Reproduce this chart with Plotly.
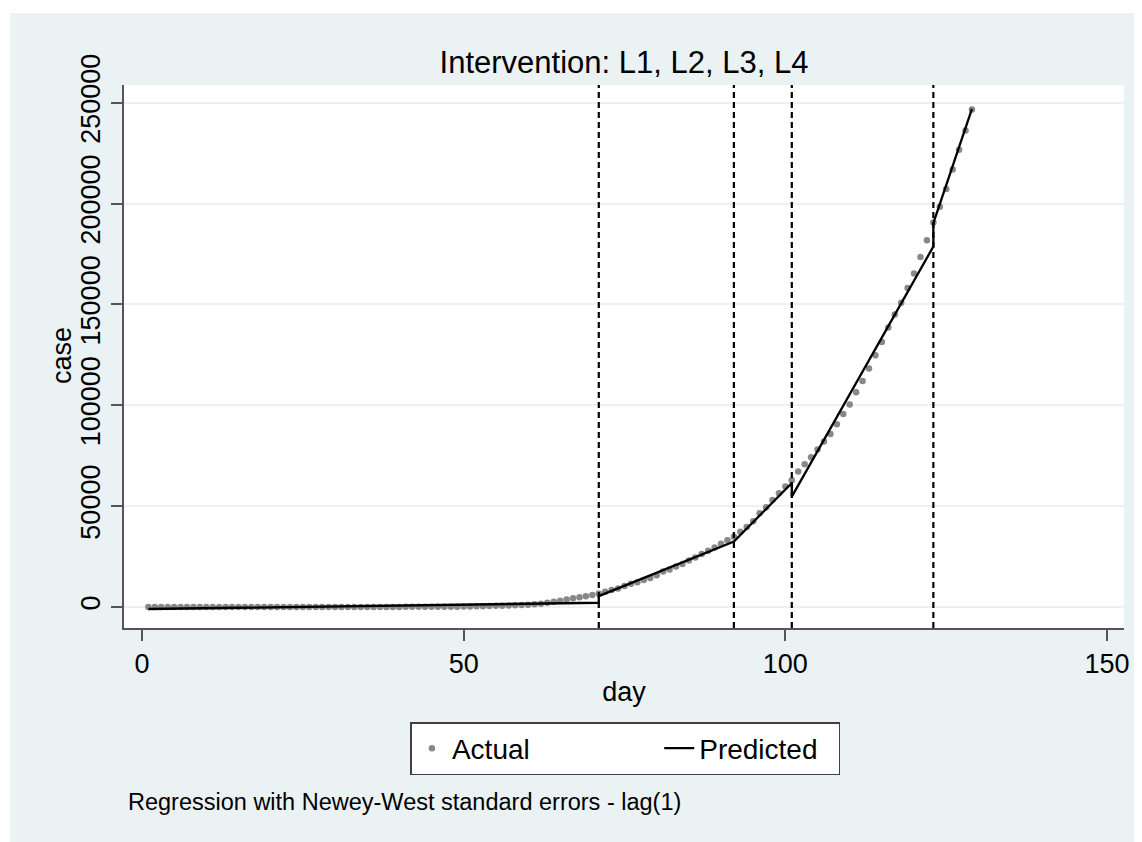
import plotly.graph_objects as go

# ---------------- data ----------------
day = list(range(1, 130))
case = [1, 1, 1, 2, 3] + [3] * 27 + [
    5, 6, 28, 30, 31, 34, 39, 48, 63, 71, 81, 91, 102, 112, 126, 146, 171, 198,
    256, 334, 403, 497, 571, 657, 730, 883, 1019, 1139, 1326, 1635,
    2059, 2545, 3105, 3684, 4289, 4778, 5311, 5916, 6725, 7598, 8446, 9205,
    10453, 11487, 12322, 13430, 14352, 15722, 17615, 18539, 20080, 21370,
    23077, 24530, 26283, 27890, 29451, 31324, 33062, 34863,
    37257, 39699, 42505, 46437, 49400, 52987, 56351, 59695, 62808, 67161,
    70768, 74292, 78055, 81997, 85784, 90648, 95698, 100328, 106475, 112028,
    118226, 124794, 131423, 138536, 144950, 150793, 158086, 165386, 173491,
    181827, 190609,
    198370, 207191, 216824, 226713, 236184, 246622,
]

# predicted (segmented regression), one line segment per period
seg_start_day = [1, 71, 92, 101, 123]
seg_end_day = [71, 92, 101, 123, 129]
seg_start_val = [-1000, 5400, 32400, 54700, 190300]
seg_end_val = [2100, 32400, 61500, 178700, 246900]

interventions = [71, 92, 101, 123]

x_ticks = [0, 50, 100, 150]
y_ticks = [0, 50000, 100000, 150000, 200000, 250000]

title_text = "Intervention: L1, L2, L3, L4"
note_text = "Regression with Newey-West standard errors - lag(1)"
x_title = "day"
y_title = "case"

# ---------------- build ----------------
pred_x, pred_y = [], []
for s, e, sv, ev in zip(seg_start_day, seg_end_day, seg_start_val, seg_end_val):
    pred_x += [s, e]
    pred_y += [sv, ev]

FONT = "Liberation Sans, Arial, sans-serif"
BG = "#EAF2F3"
AXIS = "#555555"

# the page body adds an 8px offset; positions below are page pixels minus it
OFF = 8
W, H = 1142 - OFF, 842 - OFF
L, T = 124 - OFF, 85 - OFF
R = W - (1126 - OFF)
B = H - (628 - OFF)
pw, ph = W - L - R, H - T - B


def px_x(p):
    return (p - OFF - L) / pw


def px_y(p):
    return (H - B - (p - OFF)) / ph


fig = go.Figure()
fig.add_trace(go.Scatter(
    x=day, y=case, mode="markers", name="Actual" + "\u00a0" * 16,
    marker=dict(size=6.5, color="#888888"),
))
fig.add_trace(go.Scatter(
    x=pred_x, y=pred_y, mode="lines", name="Predicted" + "\u00a0" * 2,
    line=dict(color="black", width=2.3),
))

for d in interventions:
    fig.add_vline(x=d, line=dict(color="black", width=2.2, dash="6px,4px"))

fig.add_shape(type="rect", xref="paper", yref="paper",
              x0=px_x(10), x1=px_x(1142 + 30), y0=px_y(842 + 30), y1=px_y(13),
              fillcolor=BG, line=dict(width=0), layer="below")
fig.add_shape(type="rect", xref="x domain", yref="y domain",
              x0=0, x1=1, y0=0, y1=1,
              fillcolor="white", line=dict(width=0), layer="below")

fig.update_layout(
    width=W, height=H,
    margin=dict(l=L, r=R, t=T, b=B),
    paper_bgcolor="white", plot_bgcolor="white",
    font=dict(family=FONT, color="black"),
    title=dict(text=title_text, x=0.5, xref="paper", y=1 - (62 - OFF) / H,
               yanchor="middle", font=dict(size=31, family=FONT, color="black")),
    showlegend=True,
    legend=dict(
        orientation="h", x=px_x(411), y=px_y(722), xanchor="left", yanchor="top",
        bgcolor="white", bordercolor="#404040", borderwidth=1.5,
        font=dict(size=28, family=FONT, color="black"),
    ),
    annotations=[
        dict(text=note_text, xref="paper", yref="paper",
             x=px_x(126), y=px_y(802), xanchor="left", yanchor="middle",
             showarrow=False, font=dict(size=23.5, family=FONT, color="black")),
        dict(text=y_title, xref="paper", yref="paper", textangle=-90,
             x=px_x(62), y=px_y(356), xanchor="center", yanchor="middle",
             showarrow=False, font=dict(size=27, family=FONT, color="black")),
    ],
)

fig.update_xaxes(
    range=[-2.79, 152.63], tickvals=x_ticks, ticks="outside", ticklen=11,
    tickwidth=2, tickcolor=AXIS, showline=True, linecolor=AXIS, linewidth=2,
    showgrid=False, zeroline=False,
    tickfont=dict(size=27, family=FONT, color="black"),
    title=dict(text=x_title, font=dict(size=27, family=FONT, color="black"), standoff=4),
)
fig.update_yaxes(
    range=[-10410, 258775], tickvals=y_ticks, tickformat="d", ticks="outside",
    ticklen=11, tickwidth=2, tickcolor=AXIS, showline=True, linecolor=AXIS,
    linewidth=2, showgrid=True, gridcolor=BG, gridwidth=2, zeroline=False,
    tickangle=-90,
    tickfont=dict(size=27, family=FONT, color="black"),
)

fig.write_html("out.html")
